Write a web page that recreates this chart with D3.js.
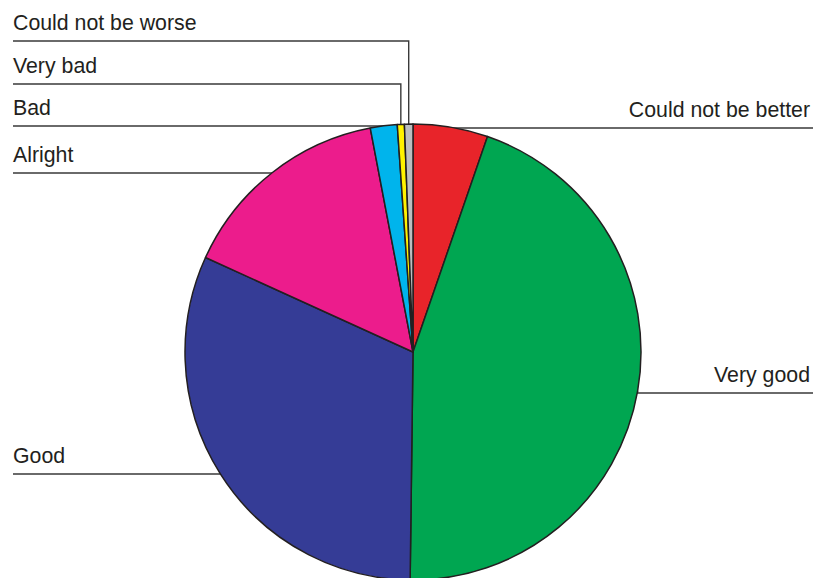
<!DOCTYPE html>
<html>
<head>
<meta charset="utf-8">
<script src="https://cdn.jsdelivr.net/npm/d3@7"></script>
<style>
  html, body { margin: 0; padding: 0; background: #fff; }
  svg { display: block; }
  text { font-family: "Liberation Sans", Arial, Helvetica, sans-serif; fill: #231f20; }
</style>
</head>
<body>
<svg id="chart"></svg>
<script>
// --------------------------------------
// DATA (percent, clockwise from 12 o'clock)
// --------------------------------------
var categories = ['Could not be better', 'Very good', 'Good', 'Alright', 'Bad', 'Very bad', 'Could not be worse'];
var values = [5.3, 44.9, 31.6, 15.2, 1.9, 0.5, 0.6];
var colors = ['#e8242a', '#00a651', '#353c96', '#ec1c8c', '#00b4ec', '#fff200', '#bcbec0'];

// label side + row of the leader line, in the same order
var labelSide = ['right', 'right', 'left', 'left', 'left', 'left', 'left'];
var labelRowY = [128, 393, 474, 173, 126, 84, 41];

// --------------------------------------
// CONFIG
// --------------------------------------
var CONFIG = {
    width: 814,
    height: 578,
    cx: 413,
    cy: 352,
    radius: 228,
    leftX: 13,
    rightX: 813
};

var svg = d3.select('#chart')
    .attr('width', CONFIG.width)
    .attr('height', CONFIG.height);

var data = categories.map(function(c, i){
    return { name: c, value: values[i], color: colors[i], side: labelSide[i], rowY: labelRowY[i] };
});

var pie = d3.pie()
    .sort(null)
    .value(function(d){ return d.value; });

var arcs = pie(data);

var arc = d3.arc()
    .innerRadius(0)
    .outerRadius(CONFIG.radius);

// point on the rim at the slice's middle angle
function rimPoint(a){
    var mid = (a.startAngle + a.endAngle) / 2;
    return [CONFIG.cx + CONFIG.radius * Math.sin(mid), CONFIG.cy - CONFIG.radius * Math.cos(mid)];
}

// leader lines (drawn under the pie)
var $lines = svg.append('g').attr('class', 'leaders');
arcs.forEach(function(a){
    var p = rimPoint(a);
    var d = a.data;
    var startX = d.side === 'left' ? CONFIG.leftX : CONFIG.rightX;
    var pts = [[startX, d.rowY], [p[0], d.rowY], [p[0], p[1]]];
    $lines.append('path')
        .attr('d', d3.line()(pts))
        .attr('fill', 'none')
        .attr('stroke', '#3a3a3a')
        .attr('stroke-width', 1.4);
});

// slices
svg.append('g')
    .attr('transform', 'translate(' + CONFIG.cx + ',' + CONFIG.cy + ')')
    .selectAll('path')
    .data(arcs)
    .enter()
    .append('path')
    .attr('d', arc)
    .attr('fill', function(a){ return a.data.color; })
    .attr('stroke', '#231f20')
    .attr('stroke-width', 1.5)
    .attr('stroke-linejoin', 'round');

// labels
svg.append('g')
    .selectAll('text')
    .data(data)
    .enter()
    .append('text')
    .attr('x', function(d){ return d.side === 'left' ? CONFIG.leftX : CONFIG.rightX - 3; })
    .attr('y', function(d){ return d.rowY - 11; })
    .attr('text-anchor', function(d){ return d.side === 'left' ? 'start' : 'end'; })
    .attr('font-size', 21.3)
    .text(function(d){ return d.name; });
</script>
</body>
</html>
